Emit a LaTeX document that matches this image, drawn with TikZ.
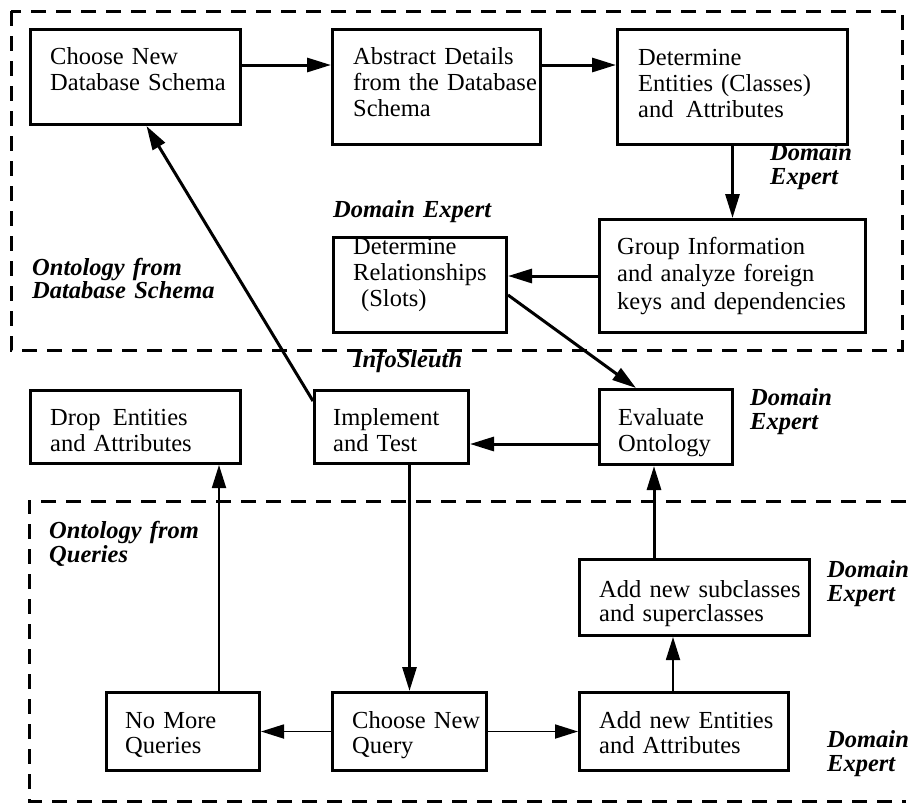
\documentclass[tikz,border=0pt]{standalone}
\usepackage{fontspec}
\setmainfont{Liberation Serif}
\usetikzlibrary{arrows.meta}

\begin{document}
\begin{tikzpicture}[x=1pt,y=-1pt,
  box/.style={draw, line width=3pt, inner sep=0pt, anchor=north west},
  txt/.style={anchor=base west, inner sep=0pt, text width=260pt, align=left,
              font=\fontsize{24.5}{26}\selectfont},
  tag/.style={txt, font=\fontsize{24.5}{24}\selectfont\bfseries\itshape},
  zone/.style={line width=3pt, dash pattern=on 15pt off 10pt},
  bigarrow/.style={line width=3pt, -{Triangle[length=24pt,width=14pt]}},
  smallarrow/.style={line width=1.8pt, -{Triangle[length=23pt,width=14pt]}},
]
\useasboundingbox[fill=white] (0,0) rectangle (909,804);

% dashed regions
\draw[zone] (11,11) rectangle (902,350);
\draw[zone] (906,501) -- (29,501) -- (29,801) -- (906,801);

% process boxes
\node[box, minimum width=210pt, minimum height=95pt]  (b1)  at (29,28)  {};
\node[box, minimum width=208pt, minimum height=115pt] (b2)  at (331,28) {};
\node[box, minimum width=230pt, minimum height=115pt] (b3)  at (616,28) {};
\node[box, minimum width=266pt, minimum height=113pt] (b4)  at (598,218) {};
\node[box, minimum width=173pt, minimum height=95pt]  (b5)  at (332,236) {};
\node[box, minimum width=210pt, minimum height=73pt]  (b6)  at (29,389) {};
\node[box, minimum width=154pt, minimum height=73pt]  (b7)  at (313,389) {};
\node[box, minimum width=133pt, minimum height=75pt]  (b8)  at (598,388) {};
\node[box, minimum width=153pt, minimum height=78pt]  (b9)  at (105,691) {};
\node[box, minimum width=154pt, minimum height=78pt]  (b10) at (331,691) {};
\node[box, minimum width=209pt, minimum height=78pt]  (b11) at (578,691) {};
\node[box, minimum width=230pt, minimum height=76pt]  (b12) at (578,558) {};

% box texts
\node[txt] (t1)  at (50,64)   {Choose New\\Database Schema};
\node[txt] (t2)  at (353,64)  {Abstract Details\\from the Database\\Schema};
\node[txt] (t3)  at (638,65)  {Determine\\Entities (Classes)\\and\enspace Attributes};
\node[txt, font=\fontsize{24.5}{27.5}\selectfont] (t4) at (617,254) {Group Information\\and analyze foreign\\keys and dependencies};
\node[txt] (t5)  at (353,254) {Determine\\Relationships\\\hspace*{8pt}(Slots)};
\node[txt] (t6)  at (50,425)  {Drop\enspace Entities\\and Attributes};
\node[txt] (t7)  at (333,425) {Implement\\and Test};
\node[txt] (t8)  at (618,425) {Evaluate\\Ontology};
\node[txt, font=\fontsize{24.5}{25}\selectfont] (t9)  at (125,728) {No More\\Queries};
\node[txt, font=\fontsize{24.5}{25}\selectfont] (t10) at (352,728) {Choose New\\Query};
\node[txt, font=\fontsize{24.5}{25}\selectfont] (t11) at (599,728) {Add new Entities\\and Attributes};
\node[txt, font=\fontsize{24.5}{24}\selectfont] (t12) at (599,597) {Add new subclasses\\and superclasses};

% role and region labels
\node[tag] (l1) at (770,160) {Domain\\Expert};
\node[tag] (l2) at (333,217) {Domain Expert};
\node[tag, font=\fontsize{24.5}{22}\selectfont\bfseries\itshape] (l3) at (32,275) {Ontology from\\Database Schema};
\node[tag] (l4) at (353,367) {InfoSleuth};
\node[tag] (l5) at (750,405) {Domain\\Expert};
\node[tag] (l6) at (49,538)  {Ontology from\\Queries};
\node[tag] (l7) at (827,577) {Domain\\Expert};
\node[tag] (l8) at (827,747) {Domain\\Expert};

% connectors
\coordinate (yTop) at (0,65);
\coordinate (yEval) at (0,444);
\coordinate (xDrop) at (219,0);
\coordinate (xAdd) at (673,0);
\coordinate (xSub) at (654,0);

\draw[bigarrow] (b1.east |- yTop) -- (b2.west |- yTop);
\draw[bigarrow] (b2.east |- yTop) -- (b3.west |- yTop);
\draw[bigarrow] (b3.south) -- (b4.north);
\draw[bigarrow] (b4.west) -- (b5.east |- b4.west);
\draw[bigarrow] ([yshift=-10pt]b5.east) -- ([xshift=-30pt]b8.north);
\draw[bigarrow] (b8.west |- yEval) -- (b7.east |- yEval);
\draw[bigarrow] ([yshift=-12pt]b7.north west) -- ([xshift=11pt]b1.south);
\draw[bigarrow] (b7.south -| b10.north) -- (b10.north);
\draw[bigarrow] (b12.north -| xSub) -- (b8.south -| xSub);
\draw[smallarrow] (b9.north -| xDrop) -- (b6.south -| xDrop);
\draw[smallarrow] (b10.west) -- (b9.east);
\draw[smallarrow] (b10.east) -- (b11.west);
\draw[smallarrow] (b11.north -| xAdd) -- (b12.south -| xAdd);
\end{tikzpicture}
\end{document}
